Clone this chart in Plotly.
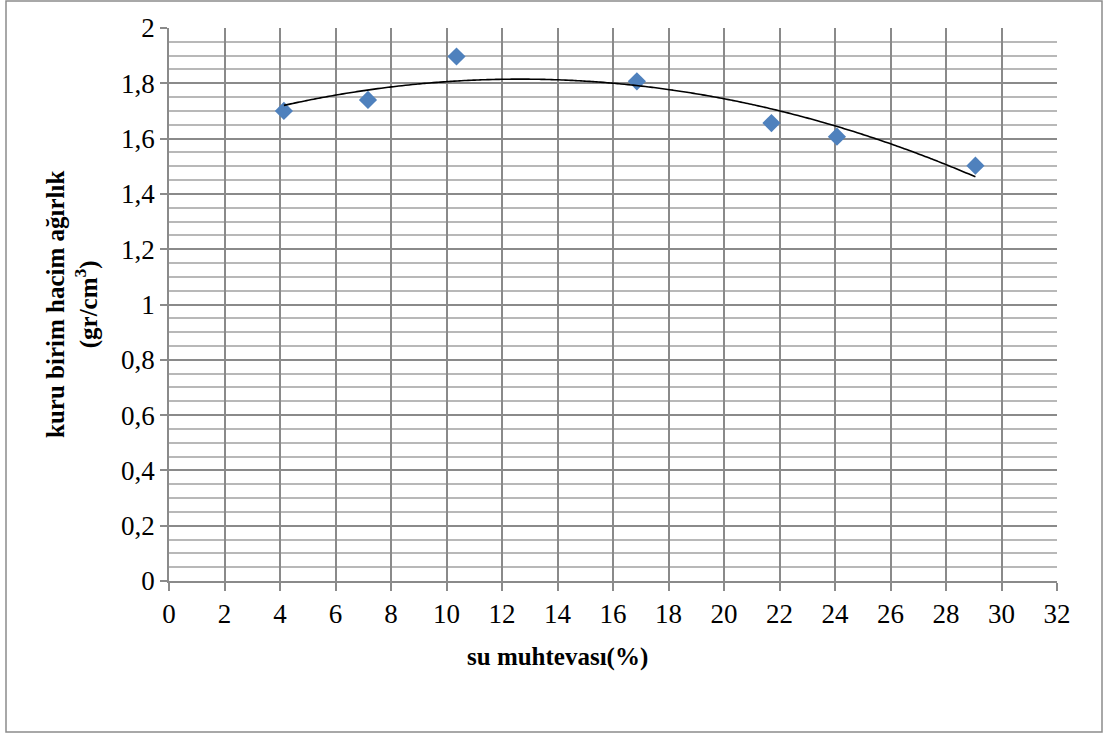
import numpy as np
import plotly.graph_objects as go

# Data
su_muhtevasi = [4.14, 7.17, 10.36, 16.86, 21.71, 24.07, 29.06]
kuru_birim_hacim = [1.700, 1.740, 1.897, 1.807, 1.656, 1.607, 1.502]

x_tick_vals = list(range(0, 33, 2))
y_tick_vals = [0, 0.2, 0.4, 0.6, 0.8, 1.0, 1.2, 1.4, 1.6, 1.8, 2.0]
y_tick_text = ["0", "0,2", "0,4", "0,6", "0,8", "1", "1,2", "1,4", "1,6", "1,8", "2"]

# Polynomial (order 2) trendline, as in the original spreadsheet chart
coef = np.polyfit(su_muhtevasi, kuru_birim_hacim, 2)
trend_x = np.linspace(min(su_muhtevasi), max(su_muhtevasi), 200)
trend_y = np.polyval(coef, trend_x)

W, H = 1107, 735
ML, MR, MT, MB = 169, 50, 28, 154
pw = W - ML - MR
ph = H - MT - MB

FONT = "Liberation Serif, Times New Roman, serif"
MAJOR = "#8a8a8a"
MINOR = "#b8b8b8"

fig = go.Figure()
fig.add_trace(go.Scatter(
    x=su_muhtevasi, y=kuru_birim_hacim, mode="markers",
    marker=dict(symbol="diamond", size=14, color="#4F81BD", line=dict(width=0)),
    showlegend=False, hoverinfo="x+y"))
fig.add_trace(go.Scatter(
    x=trend_x, y=trend_y, mode="lines",
    line=dict(color="black", width=1.6, shape="spline"),
    showlegend=False, hoverinfo="skip"))

fig.update_xaxes(
    range=[0, 32], tickvals=x_tick_vals, ticktext=[str(v) for v in x_tick_vals],
    showgrid=True, gridcolor=MAJOR, gridwidth=1.5,
    showline=True, linecolor=MAJOR, linewidth=1.5, mirror=False,
    ticks="outside", ticklen=8, tickcolor=MAJOR, tickwidth=1.5,
    tickfont=dict(family=FONT, size=27, color="black"),
    zeroline=False, fixedrange=True)
fig.update_yaxes(
    range=[0, 2], tickvals=y_tick_vals, ticktext=y_tick_text,
    showgrid=True, gridcolor=MAJOR, gridwidth=1.5,
    minor=dict(dtick=0.05, tick0=0, showgrid=True, gridcolor=MINOR, gridwidth=1.5, ticks=""),
    showline=True, linecolor=MAJOR, linewidth=1.5,
    ticks="outside", ticklen=7, tickcolor=MAJOR, tickwidth=1.5,
    tickfont=dict(family=FONT, size=27, color="black"),
    zeroline=False, fixedrange=True)

def px_x(p):
    return (p - ML) / pw

def px_y(p):
    return (H - MB - p) / ph

fig.update_layout(
    width=W, height=H,
    margin=dict(l=ML, r=MR, t=MT, b=MB),
    paper_bgcolor="white", plot_bgcolor="white",
    font=dict(family=FONT),
    shapes=[dict(type="rect", xref="paper", yref="paper",
                 x0=px_x(6), x1=px_x(1102), y0=px_y(732), y1=px_y(1),
                 line=dict(color="#8c8c8c", width=1.5), layer="below")],
    annotations=[
        dict(text="<b>su muhtevası(%)</b>", xref="paper", yref="paper",
             x=px_x(557), y=px_y(657), xanchor="center", yanchor="middle",
             showarrow=False, font=dict(family=FONT, size=25, color="black")),
        dict(text="<b>kuru birim hacim ağırlık<br>(gr/cm<sup>3</sup>)</b>",
             xref="paper", yref="paper", x=px_x(72), y=px_y(305),
             xanchor="center", yanchor="middle", textangle=-90,
             showarrow=False, font=dict(family=FONT, size=25, color="black")),
    ],
)

fig.write_html("out.html", config={"displayModeBar": False})
